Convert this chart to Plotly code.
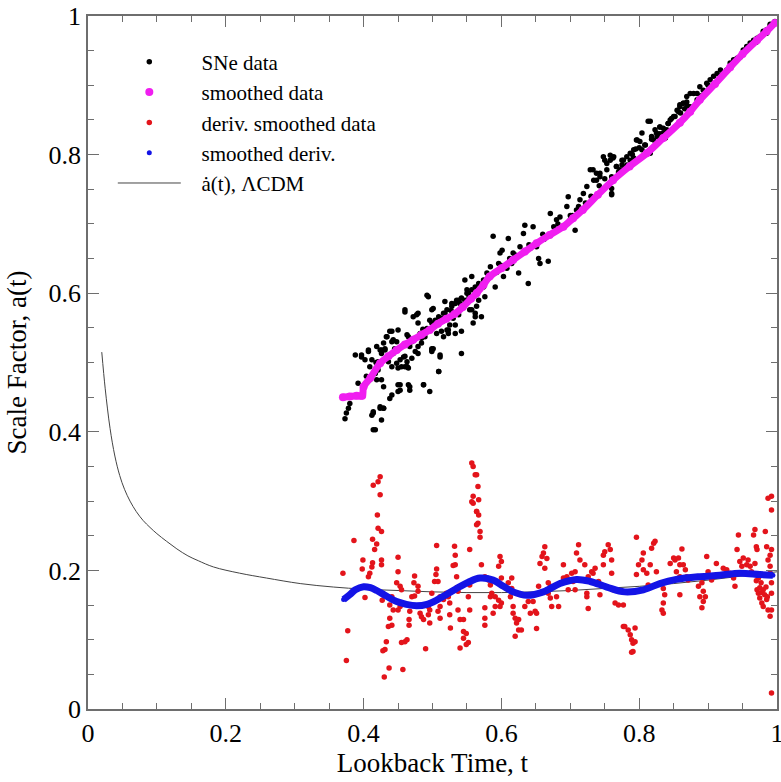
import plotly.graph_objects as go

# ---------------- data ----------------
sne_x = [0.373,0.375,0.378,0.380,0.414,0.412,0.414,0.424,0.429,0.426,0.438,0.388,0.397,0.407,0.402,0.409,0.414,0.419,0.421,0.426,
         0.429,0.431,0.426,0.419,0.429,0.434,0.438,0.441,0.443,0.448,0.450,0.450,0.453,0.455,0.458,0.460,0.463,0.465,0.467,0.463,
         0.467,0.465,0.472,0.460,0.463,0.477,0.479,0.482,0.479,0.484,0.487,0.489,0.492,0.494,0.496,0.499,0.501,0.496,0.499,0.506,
         0.509,0.511,0.516,0.513,0.518,0.521,0.523,0.525,0.528,0.530,0.533,0.535,0.538,0.542,0.545,0.547,0.550,0.552,0.554,0.557,
         0.559,0.562,0.564,0.567,0.571,0.574,0.576,0.574,0.579,0.584,0.588,0.591,0.596,0.598,0.601,0.603,0.608,0.610,0.615,0.617,
         0.622,0.625,0.627,0.632,0.634,0.639,0.646,0.651,0.654,0.656,0.668,0.671,0.676,0.680,0.685,0.690,0.695,0.697,0.700,0.707,
         0.709,0.712,0.714,0.719,0.724,0.729,0.734,0.738,0.743,0.748,0.753,0.758,0.760,0.760,0.763,0.767,0.772,0.777,0.782,0.787,
         0.792,0.797,0.804,0.809,0.813,0.816,0.821,0.826,0.830,0.835,0.840,0.845,0.850,0.855,0.859,0.864,0.869,0.874,0.879,0.884,
         0.888,0.893,0.898,0.903,0.908,0.913,0.918,0.927,0.932,0.937,0.942,0.947,0.951,0.956,0.961,0.966,0.971,0.976,0.980,0.985,
         0.990,0.995,0.997,0.600,0.620,0.640,0.660,0.700,0.730,0.750,0.770,0.790,0.800,0.830,0.860,0.870,0.890,0.900,0.920,0.940,
         0.950,0.960,0.970,0.980,0.990,0.985,0.975,0.965,0.955,0.945,0.935,0.392,0.404,0.418,0.433,0.445,0.470,0.486,0.503,0.515,
         0.527,0.540,0.553,0.566,0.580,0.593,0.612,0.642,0.662,0.682,0.703,0.722,0.742,0.775,0.795,0.818,0.842,0.866]
sne_y = [0.419,0.427,0.434,0.441,0.403,0.424,0.429,0.434,0.434,0.417,0.448,0.511,0.508,0.518,0.504,0.494,0.484,0.523,0.501,0.518,
         0.528,0.520,0.475,0.475,0.465,0.537,0.545,0.530,0.513,0.499,0.492,0.468,0.460,0.494,0.508,0.494,0.494,0.468,0.460,0.501,
         0.523,0.537,0.566,0.573,0.540,0.569,0.557,0.542,0.513,0.528,0.468,0.537,0.547,0.595,0.458,0.518,0.520,0.561,0.576,0.542,
         0.487,0.508,0.537,0.564,0.571,0.547,0.542,0.554,0.585,0.564,0.542,0.590,0.569,0.513,0.581,0.590,0.605,0.600,0.576,0.624,
         0.557,0.571,0.581,0.590,0.566,0.609,0.595,0.619,0.629,0.638,0.682,0.609,0.643,0.658,0.662,0.624,0.636,0.679,0.643,0.658,
         0.653,0.629,0.667,0.686,0.698,0.614,0.696,0.667,0.650,0.643,0.646,0.715,0.696,0.706,0.710,0.696,0.725,0.739,0.706,0.691,
         0.720,0.725,0.735,0.744,0.754,0.778,0.763,0.773,0.773,0.797,0.787,0.792,0.763,0.744,0.797,0.783,0.778,0.792,0.797,0.802,
         0.807,0.821,0.831,0.814,0.804,0.848,0.821,0.826,0.840,0.831,0.836,0.850,0.855,0.864,0.869,0.874,0.884,0.888,0.888,0.879,
         0.898,0.893,0.903,0.908,0.913,0.917,0.922,0.922,0.932,0.937,0.939,0.941,0.951,0.956,0.961,0.965,0.968,0.970,0.975,0.980,
         0.985,0.989,0.992,0.640,0.655,0.670,0.685,0.712,0.740,0.765,0.775,0.800,0.810,0.830,0.860,0.870,0.885,0.900,0.915,0.935,
         0.945,0.955,0.962,0.978,0.988,0.975,0.970,0.960,0.950,0.940,0.930,0.470,0.480,0.500,0.505,0.520,0.530,0.548,0.552,0.560,
         0.575,0.585,0.595,0.602,0.620,0.630,0.650,0.665,0.678,0.700,0.712,0.730,0.755,0.785,0.808,0.822,0.845,0.866]

# additional SNe points in the dense lower band and the upper band
sne_x_more = [0.397,0.407,0.412,0.409,0.417,0.421,0.424,0.426,0.431,0.433,0.441,0.443,0.450,0.448,0.436,0.441,0.453,0.460,0.463,0.465,
              0.470,0.475,0.479,0.484,0.489,0.492,0.499,0.504,0.509,0.516,0.521,0.528,0.533,0.538,0.542,0.550,0.554,0.557,0.562,0.567,
              0.542,0.533,0.523,0.513,0.499,0.499,0.511,0.509,0.487,0.467,0.453,0.450,0.441,0.429,0.424,0.414,0.417,0.460,0.479,0.492,
              0.501,0.518,0.547,0.557,0.562,
              0.733,0.738,0.743,0.750,0.758,0.762,0.753,0.760,0.760,0.760,0.767,0.775,0.777,0.782,0.787,0.792,0.796,0.801,0.804,0.808,
              0.813,0.816,0.818,0.823,0.825,0.830,0.835,0.838,0.842,0.847,0.852,0.857,0.859,0.864,0.869,0.874,0.871,0.884,0.886]
sne_y_more = [0.511,0.516,0.504,0.475,0.484,0.489,0.518,0.513,0.518,0.537,0.545,0.533,0.547,0.530,0.501,0.494,0.504,0.509,0.494,0.492,
              0.506,0.516,0.523,0.535,0.542,0.549,0.557,0.561,0.566,0.571,0.576,0.581,0.585,0.590,0.593,0.600,0.595,0.605,0.609,0.614,
              0.545,0.554,0.547,0.545,0.520,0.516,0.511,0.487,0.468,0.465,0.468,0.458,0.453,0.434,0.436,0.427,0.403,0.576,0.571,0.597,
              0.578,0.588,0.619,0.576,0.566,
              0.778,0.763,0.768,0.792,0.799,0.795,0.778,0.768,0.751,0.742,0.783,0.792,0.778,0.785,0.792,0.795,0.821,0.819,0.807,0.814,
              0.848,0.802,0.826,0.836,0.831,0.840,0.838,0.824,0.845,0.852,0.855,0.862,0.872,0.874,0.876,0.869,0.860,0.888,0.876]

smooth_x = [0.370,0.380,0.390,0.398,0.400,0.410,0.424,0.436,0.448,0.460,0.472,0.484,0.496,0.508,0.520,0.532,0.544,0.556,0.564,0.574,
            0.583,0.600,0.617,0.634,0.651,0.670,0.690,0.704,0.718,0.740,0.762,0.786,0.811,0.835,0.859,0.874,0.888,0.910,0.932,0.950,
            0.971,0.985,0.997]
smooth_y = [0.450,0.451,0.452,0.452,0.465,0.478,0.499,0.509,0.518,0.526,0.533,0.540,0.547,0.556,0.563,0.570,0.580,0.592,0.600,0.612,
            0.624,0.636,0.648,0.660,0.672,0.684,0.696,0.708,0.720,0.742,0.763,0.783,0.802,0.824,0.846,0.862,0.879,0.902,0.926,0.945,
            0.965,0.978,0.990]

deriv_x = [0.370,0.386,0.377,0.375,0.399,0.398,0.402,0.414,0.421,0.424,0.424,0.420,0.421,0.426,0.413,0.419,0.416,0.413,0.412,0.409,
           0.407,0.426,0.426,0.427,0.441,0.438,0.443,0.438,0.441,0.436,0.433,0.431,0.428,0.437,0.430,0.457,0.460,0.455,0.463,0.450,
           0.450,0.448,0.453,0.455,0.453,0.450,0.467,0.466,0.466,0.474,0.473,0.479,0.470,0.474,0.479,0.482,0.484,0.487,0.494,0.496,
           0.494,0.496,0.490,0.506,0.506,0.505,0.503,0.508,0.499,0.511,0.511,0.508,0.511,0.516,0.520,0.523,0.525,0.525,0.526,0.532,
           0.533,0.533,0.530,0.535,0.535,0.537,0.537,0.540,0.545,0.545,0.549,0.545,0.540,0.549,0.552,0.554,0.554,0.552,0.554,0.557,
           0.559,0.562,0.559,0.557,0.559,0.564,0.564,
           0.564,0.566,0.567,0.564,0.567,0.566,0.569,0.569,0.571,0.576,0.581,0.584,0.586,0.584,0.591,0.596,0.600,0.598,0.591,0.588,
           0.576,0.576,0.576,0.598,0.600,0.596,0.600,0.615,0.610,0.615,0.613,0.617,0.617,0.620,0.625,0.622,0.625,0.620,0.629,0.634,
           0.639,0.642,0.646,0.649,0.651,0.651,0.654,0.656,0.659,0.661,0.663,0.666,0.663,0.668,0.671,0.668,0.671,0.673,0.680,0.683,
           0.678,0.690,0.690,0.695,0.697,0.702,0.704,0.707,0.707,0.709,0.712,0.714,0.721,0.726,0.724,0.724,0.726,0.731,0.733,0.736,
           0.741,0.743,0.748,0.748,0.750,0.755,0.758,0.760,0.760,0.762,0.765,0.770,0.777,
           0.777,0.779,0.784,0.787,0.789,0.791,0.794,0.794,0.791,0.789,0.796,0.806,0.804,0.799,0.796,0.806,0.811,0.816,0.818,0.821,
           0.823,0.825,0.813,0.835,0.837,0.835,0.833,0.835,0.845,0.850,0.852,0.857,0.859,0.854,0.859,0.862,0.864,0.867,0.869,0.871,
           0.859,0.886,0.888,0.891,0.893,0.896,0.893,0.891,0.898,0.900,0.903,0.905,0.912,0.922,0.927,0.932,0.937,0.939,0.942,0.944,
           0.946,0.949,0.951,0.956,0.958,0.961,0.963,0.966,0.968,0.970,0.971,0.968,0.973,0.971,0.973,0.975,0.978,0.980,0.985,0.987,
           0.983,0.985,0.987,0.990,0.992,0.990,0.990,0.992,0.992,0.992,0.990,0.987,0.992,0.992,0.992,
           0.975,0.978,0.980,0.982,0.977,0.984,0.986,0.970]
deriv_y = [0.196,0.243,0.113,0.070,0.215,0.202,0.161,0.323,0.328,0.335,0.309,0.280,0.261,0.256,0.245,0.238,0.230,0.211,0.205,0.196,
           0.191,0.215,0.208,0.157,0.162,0.150,0.143,0.131,0.121,0.119,0.097,0.086,0.084,0.059,0.046,0.057,0.097,0.096,0.100,0.219,
           0.198,0.182,0.177,0.172,0.148,0.143,0.141,0.129,0.121,0.192,0.182,0.177,0.162,0.163,0.170,0.138,0.133,0.129,0.148,0.143,
           0.136,0.124,0.087,0.236,0.202,0.194,0.184,0.184,0.167,0.162,0.148,0.141,0.131,0.158,0.167,0.162,0.153,0.136,0.117,0.235,
           0.222,0.208,0.207,0.191,0.175,0.170,0.143,0.129,0.129,0.112,0.109,0.102,0.088,0.093,0.096,0.230,0.179,0.162,0.143,0.355,
           0.350,0.338,0.307,0.299,0.297,0.285,0.266,
           0.338,0.321,0.302,0.285,0.280,0.268,0.256,0.248,0.208,0.191,0.186,0.179,0.167,0.162,0.162,0.157,0.153,0.148,0.148,0.138,
           0.146,0.131,0.121,0.220,0.213,0.206,0.189,0.189,0.182,0.174,0.162,0.148,0.138,0.131,0.129,0.124,0.114,0.105,0.114,0.148,
           0.155,0.138,0.155,0.141,0.138,0.116,0.177,0.210,0.220,0.225,0.234,0.217,0.203,0.182,0.177,0.167,0.160,0.148,0.162,0.148,
           0.177,0.208,0.189,0.191,0.172,0.196,0.184,0.172,0.198,0.225,0.237,0.215,0.208,0.191,0.167,0.162,0.145,0.198,0.196,0.203,
           0.184,0.165,0.208,0.222,0.227,0.237,0.230,0.215,0.196,0.172,0.153,0.150,0.119,
           0.150,0.119,0.114,0.107,0.100,0.095,0.117,0.097,0.083,0.082,0.248,0.225,0.215,0.208,0.194,0.201,0.196,0.208,0.232,0.239,
           0.242,0.198,0.179,0.174,0.165,0.153,0.143,0.138,0.210,0.218,0.215,0.218,0.208,0.198,0.191,0.231,0.208,0.201,0.191,0.186,
           0.165,0.177,0.162,0.182,0.170,0.162,0.155,0.146,0.220,0.198,0.191,0.186,0.210,0.203,0.201,0.196,0.189,0.177,0.230,0.251,
           0.213,0.206,0.218,0.208,0.215,0.206,0.198,0.251,0.259,0.234,0.230,0.210,0.189,0.172,0.167,0.160,0.153,0.148,0.158,0.143,
           0.256,0.234,0.215,0.222,0.230,0.206,0.196,0.182,0.167,0.143,0.134,0.304,0.307,0.287,0.023,
           0.175,0.168,0.172,0.165,0.182,0.176,0.162,0.185]

sderiv_x = [0.371,0.380,0.388,0.400,0.410,0.419,0.433,0.448,0.462,0.477,0.492,0.506,0.520,0.535,0.552,0.569,0.588,0.603,0.617,0.637,
            0.661,0.685,0.709,0.729,0.753,0.779,0.806,0.830,0.854,0.888,0.917,0.946,0.975,0.994]
sderiv_y = [0.158,0.165,0.172,0.1765,0.175,0.171,0.163,0.155,0.151,0.149,0.151,0.157,0.165,0.174,0.183,0.189,0.186,0.177,0.169,0.164,
            0.169,0.181,0.187,0.184,0.176,0.169,0.172,0.181,0.187,0.191,0.193,0.196,0.194,0.193]

lcdm_x = [0.020,0.025,0.032,0.039,0.046,0.053,0.061,0.070,0.080,0.090,0.100,0.114,0.129,0.145,0.160,0.182,0.220,0.259,0.308,0.356,
          0.400,0.450,0.500,0.550,0.600,0.650,0.700,0.750,0.800,0.850,0.900,0.950,1.000]
lcdm_y = [0.515,0.462,0.405,0.365,0.337,0.317,0.300,0.285,0.272,0.262,0.253,0.242,0.231,0.221,0.214,0.205,0.196,0.189,0.181,0.176,
          0.173,0.171,0.169,0.168,0.168,0.169,0.171,0.174,0.177,0.181,0.186,0.192,0.198]

x_ticks = [0, 0.2, 0.4, 0.6, 0.8, 1]
x_tick_text = ["0", "0.2", "0.4", "0.6", "0.8", "1"]
y_ticks = [0, 0.2, 0.4, 0.6, 0.8, 1]
y_tick_text = ["0", "0.2", "0.4", "0.6", "0.8", "1"]

series_names = ["SNe data", "smoothed data", "deriv. smoothed data", "smoothed deriv.", "ȧ(t), ΛCDM"]

# ---------------- figure ----------------
SERIF = "Liberation Serif"
MAGENTA = "#f01ef0"
RED = "#e3141b"
BLUE = "#1414e6"
AXIS = "#6e6e6e"
PAD = "\u00a0\u00a0\u00a0"   # gap between legend symbol and legend text

fig = go.Figure()

fig.add_trace(go.Scatter(x=lcdm_x, y=lcdm_y, mode="lines", line=dict(color="#444444", width=1, shape="spline"),
                         name=PAD + series_names[4], legendrank=5))
fig.add_trace(go.Scatter(x=sne_x + sne_x_more, y=sne_y + sne_y_more, mode="markers",
                         marker=dict(color="black", size=5.5),
                         name=PAD + series_names[0], legendrank=1))
fig.add_trace(go.Scatter(x=smooth_x, y=smooth_y, mode="lines", line=dict(color=MAGENTA, width=7, shape="spline"),
                         showlegend=False, hoverinfo="skip"))
fig.add_trace(go.Scatter(x=smooth_x, y=smooth_y, mode="markers", marker=dict(color=MAGENTA, size=8),
                         name=PAD + series_names[1], legendrank=2))
fig.add_trace(go.Scatter(x=deriv_x, y=deriv_y, mode="markers", marker=dict(color=RED, size=5.5),
                         name=PAD + series_names[2], legendrank=3))
fig.add_trace(go.Scatter(x=sderiv_x, y=sderiv_y, mode="lines", line=dict(color=BLUE, width=7, shape="spline"),
                         showlegend=False, hoverinfo="skip"))
fig.add_trace(go.Scatter(x=sderiv_x, y=sderiv_y, mode="markers", marker=dict(color=BLUE, size=5),
                         name=PAD + series_names[3], legendrank=4))

axis_common = dict(
    showgrid=False, zeroline=False, showline=True, linecolor=AXIS, linewidth=1.6,
    mirror="allticks", ticks="inside", ticklen=11, tickwidth=1.4, tickcolor=AXIS,
    tickfont=dict(family=SERIF, size=26, color="black"),
    minor=dict(ticks="inside", dtick=0.05, ticklen=6, tickwidth=1.2, tickcolor=AXIS),
    automargin=False, ticklabeloverflow="allow",
)

fig.update_xaxes(range=[0, 1], tickvals=x_ticks, ticktext=x_tick_text,
                 title=dict(text="Lookback Time, t", font=dict(family=SERIF, size=27, color="black"), standoff=4),
                 **axis_common)
fig.update_yaxes(range=[0, 1], tickvals=y_ticks, ticktext=y_tick_text,
                 title=dict(text="Scale Factor, a(t)", font=dict(family=SERIF, size=27, color="black"), standoff=14),
                 **axis_common)

fig.update_layout(
    width=781, height=782,
    margin=dict(l=88, r=4, t=16, b=73),
    plot_bgcolor="white", paper_bgcolor="white",
    font=dict(family=SERIF, color="black"),
    legend=dict(x=0.036, y=0.963, xanchor="left", yanchor="top", bgcolor="rgba(0,0,0,0)",
                font=dict(family=SERIF, size=21, color="black"), itemwidth=63, tracegroupgap=0),
)

# remove the default page margin so the 781x782 figure sits at the window's top-left corner
fig.write_html("out.html", config={"displayModeBar": False},
               post_script="document.body.style.margin='0';document.body.style.overflow='hidden';")
